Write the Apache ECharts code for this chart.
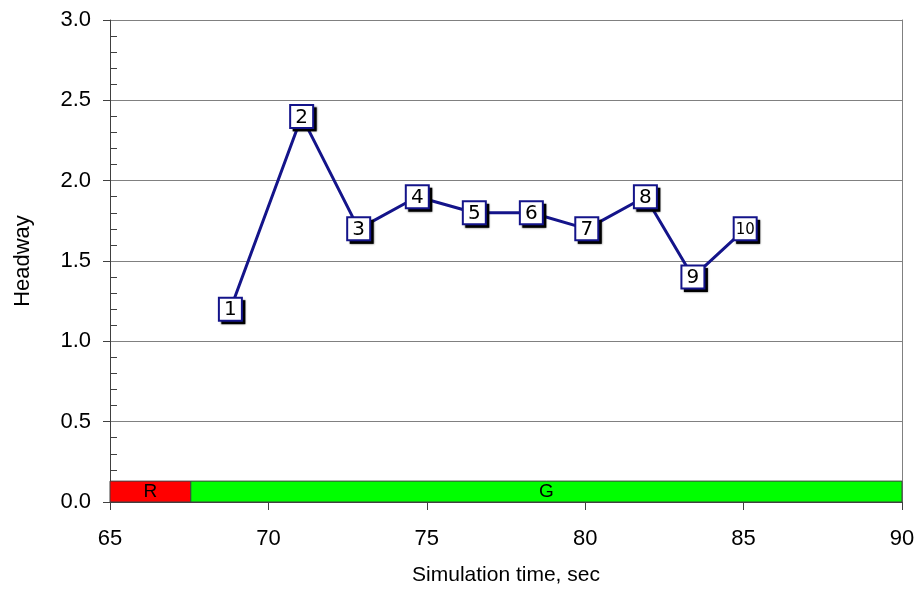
<!DOCTYPE html>
<html>
<head>
<meta charset="utf-8">
<script src="https://cdn.jsdelivr.net/npm/echarts@6/dist/echarts.min.js"></script>
<style>
  html, body { margin: 0; padding: 0; background: #fff; }
  #chart { width: 915px; height: 590px; }
</style>
</head>
<body>
<div id="chart"></div>
<script>
// Vehicle headways over simulation time
const vehicleIds = ['1', '2', '3', '4', '5', '6', '7', '8', '9', '10'];
const arrivalTimes = [68.8, 71.05, 72.85, 74.7, 76.5, 78.3, 80.05, 81.9, 83.4, 85.05];
const headways = [1.2, 2.4, 1.7, 1.9, 1.8, 1.8, 1.7, 1.9, 1.4, 1.7];

// Signal phases along the bottom strip
const phaseNames = ['R', 'G'];
const phaseStarts = [65, 67.55];
const phaseEnds = [67.55, 90];
const phaseColors = ['#ff0000', '#00ff00'];
const phaseBarHeight = 0.13;

const xTicks = { min: 65, max: 90, interval: 5 };
const yTicks = { min: 0, max: 3, interval: 0.5 };

const chart = echarts.init(document.getElementById('chart'), null, { renderer: 'canvas' });

const FONT = '"Liberation Sans", Arial, sans-serif';
const NAVY = '#14148a';
const points = arrivalTimes.map((t, i) => [t, headways[i]]);

const option = {
  animation: false,
  backgroundColor: '#ffffff',
  grid: { left: 110, right: 13, top: 20, bottom: 88, outerBoundsMode: 'none', containLabel: false },
  xAxis: {
    type: 'value',
    min: xTicks.min, max: xTicks.max, interval: xTicks.interval,
    name: 'Simulation time, sec',
    nameLocation: 'middle',
    nameGap: 63,
    nameTextStyle: { fontFamily: FONT, fontSize: 21, color: '#000' },
    axisLine: { show: true, onZero: false, lineStyle: { color: '#404040', width: 1 } },
    axisTick: { show: true, length: 8, lineStyle: { color: '#404040' } },
    axisLabel: { fontFamily: FONT, fontSize: 22, color: '#000', margin: 26 },
    splitLine: { show: false }
  },
  yAxis: [{
    type: 'value',
    min: yTicks.min, max: yTicks.max, interval: yTicks.interval,
    name: 'Headway',
    nameLocation: 'middle',
    nameGap: 76,
    nameTextStyle: { fontFamily: FONT, fontSize: 22, color: '#000' },
    axisLine: { show: true, lineStyle: { color: '#404040', width: 1 } },
    axisTick: { show: true, length: 7, lineStyle: { color: '#404040' } },
    minorTick: { show: true, splitNumber: 5, length: -7, lineStyle: { color: '#404040' } },
    axisLabel: {
      fontFamily: FONT, fontSize: 22, color: '#000', margin: 19,
      formatter: v => v.toFixed(1)
    },
    splitLine: { show: true, lineStyle: { color: '#808080', width: 1 } }
  }, {
    type: 'value',
    position: 'right',
    min: yTicks.min, max: yTicks.max, interval: yTicks.interval,
    axisLine: { show: true, lineStyle: { color: '#808080', width: 1 } },
    axisTick: { show: false },
    axisLabel: { show: false },
    splitLine: { show: false }
  }],
  series: [
    {
      type: 'custom',
      name: 'Signal',
      z: 1,
      renderItem: function (params, api) {
        const start = api.coord([api.value(0), phaseBarHeight]);
        const end = api.coord([api.value(1), 0]);
        const idx = params.dataIndex;
        return {
          type: 'rect',
          shape: { x: start[0], y: start[1], width: end[0] - start[0], height: end[1] - start[1] },
          style: { fill: phaseColors[idx], stroke: '#404040', lineWidth: 1 },
          textContent: {
            style: { text: phaseNames[idx], fill: '#000', font: '19px ' + FONT }
          },
          textConfig: { position: 'inside' }
        };
      },
      data: phaseStarts.map((s, i) => [s, phaseEnds[i]])
    },
    {
      // connecting line
      type: 'line',
      name: 'Headway',
      z: 3,
      data: points,
      lineStyle: { color: NAVY, width: 3 },
      symbol: 'none',
      silent: true
    },
    {
      // drop shadows of the id boxes
      type: 'scatter',
      z: 4,
      data: points,
      symbol: 'rect',
      symbolSize: 24,
      symbolOffset: [3, 3],
      itemStyle: { color: '#000', opacity: 1, shadowColor: 'rgba(0,0,0,0.6)', shadowBlur: 2 },
      silent: true
    },
    {
      // id boxes
      type: 'scatter',
      z: 5,
      data: points.map((d, i) => vehicleIds[i].length > 1
        ? { value: d, label: { fontSize: 15 } }
        : d),
      symbol: 'rect',
      symbolSize: 23,
      itemStyle: { color: '#ffffff', opacity: 1, borderColor: NAVY, borderWidth: 2 },
      label: {
        show: true,
        position: 'inside',
        offset: [0, 1],
        fontFamily: '"DejaVu Sans", sans-serif',
        fontSize: 20,
        color: '#000',
        formatter: p => vehicleIds[p.dataIndex]
      },
      emphasis: { disabled: true }
    }
  ]
};

chart.setOption(option);
</script>
</body>
</html>
